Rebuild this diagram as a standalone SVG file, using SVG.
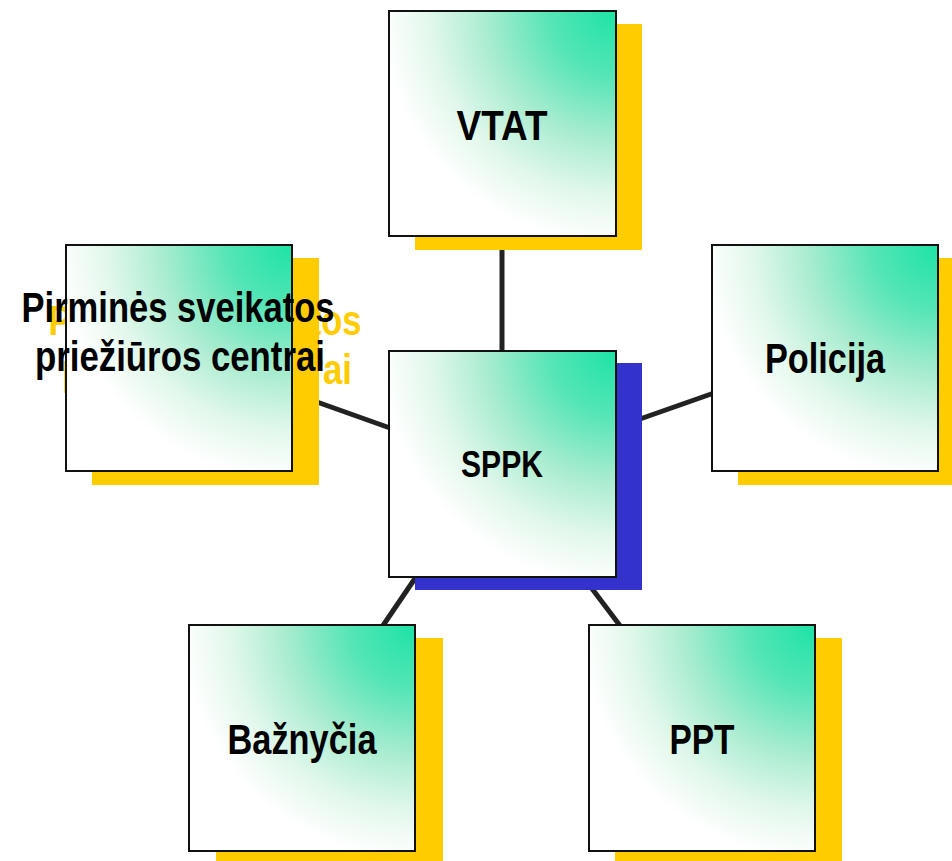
<svg xmlns="http://www.w3.org/2000/svg" width="952" height="861" viewBox="0 0 952 861">
<defs>
<radialGradient id="g" cx="1" cy="0" r="1.15" fx="1" fy="0">
<stop offset="0" stop-color="#1de3a6"/>
<stop offset="0.25" stop-color="#55e5b6"/>
<stop offset="0.5" stop-color="#a9ecd0"/>
<stop offset="0.72" stop-color="#e3f8ec"/>
<stop offset="0.9" stop-color="#ffffff"/>
</radialGradient>
</defs>
<style>
.box{fill:url(#g);stroke:#111;stroke-width:2}
.sy{fill:#ffcc00}
.sb{fill:#3333cc}
.t{font-family:"Liberation Sans Narrow","Liberation Sans",Arial,sans-serif;font-weight:bold;font-size:42px;fill:#000;text-anchor:middle}
.ty{fill:#ffcc00}
.c{stroke:#222;stroke-width:5;fill:none}
</style>
<rect width="952" height="861" fill="#fff"/>
<g id="connectors">
<line class="c" x1="502" y1="248" x2="502" y2="353"/>
<line class="c" x1="317" y1="402" x2="390" y2="428"/>
<line class="c" x1="640" y1="419" x2="714" y2="393"/>
<line class="c" x1="418" y1="574" x2="382" y2="627"/>
<line class="c" x1="590" y1="586" x2="621" y2="627"/>
</g>
<g id="node-vtat">
<rect class="sy" x="415" y="24" width="227" height="226"/>
<rect class="box" x="389" y="11" width="227" height="225"/>
<text class="t" x="502" y="140" textLength="91" lengthAdjust="spacingAndGlyphs">VTAT</text>
</g>
<g id="node-pirmines">
<rect class="sy" x="92" y="258" width="227" height="227"/>
<text class="t ty" x="205" y="335" textLength="313" lengthAdjust="spacingAndGlyphs">Pirminės sveikatos</text>
<text class="t ty" x="207" y="384" textLength="290" lengthAdjust="spacingAndGlyphs">priežiūros centrai</text>
<rect class="box" x="66" y="245" width="226" height="226"/>
<text class="t" x="178" y="322" textLength="313" lengthAdjust="spacingAndGlyphs">Pirminės sveikatos</text>
<text class="t" x="180" y="371" textLength="290" lengthAdjust="spacingAndGlyphs">priežiūros centrai</text>
</g>
<g id="node-policija">
<rect class="sy" x="738" y="258" width="214" height="227"/>
<rect class="box" x="712" y="245" width="226" height="226"/>
<text class="t" x="825" y="373" textLength="120" lengthAdjust="spacingAndGlyphs">Policija</text>
</g>
<g id="node-sppk">
<rect class="sb" x="415" y="363" width="227" height="227"/>
<rect class="box" x="389" y="351" width="227" height="226"/>
<text class="t" x="502" y="477" style="font-size:36px" textLength="82" lengthAdjust="spacingAndGlyphs">SPPK</text>
</g>
<g id="node-baznycia">
<rect class="sy" x="216" y="638" width="227" height="223"/>
<rect class="box" x="189" y="625" width="226" height="226"/>
<text class="t" x="302" y="754" textLength="149" lengthAdjust="spacingAndGlyphs">Bažnyčia</text>
</g>
<g id="node-ppt">
<rect class="sy" x="615" y="638" width="227" height="223"/>
<rect class="box" x="589" y="625" width="226" height="226"/>
<text class="t" x="702" y="754" textLength="65" lengthAdjust="spacingAndGlyphs">PPT</text>
</g>
</svg>
